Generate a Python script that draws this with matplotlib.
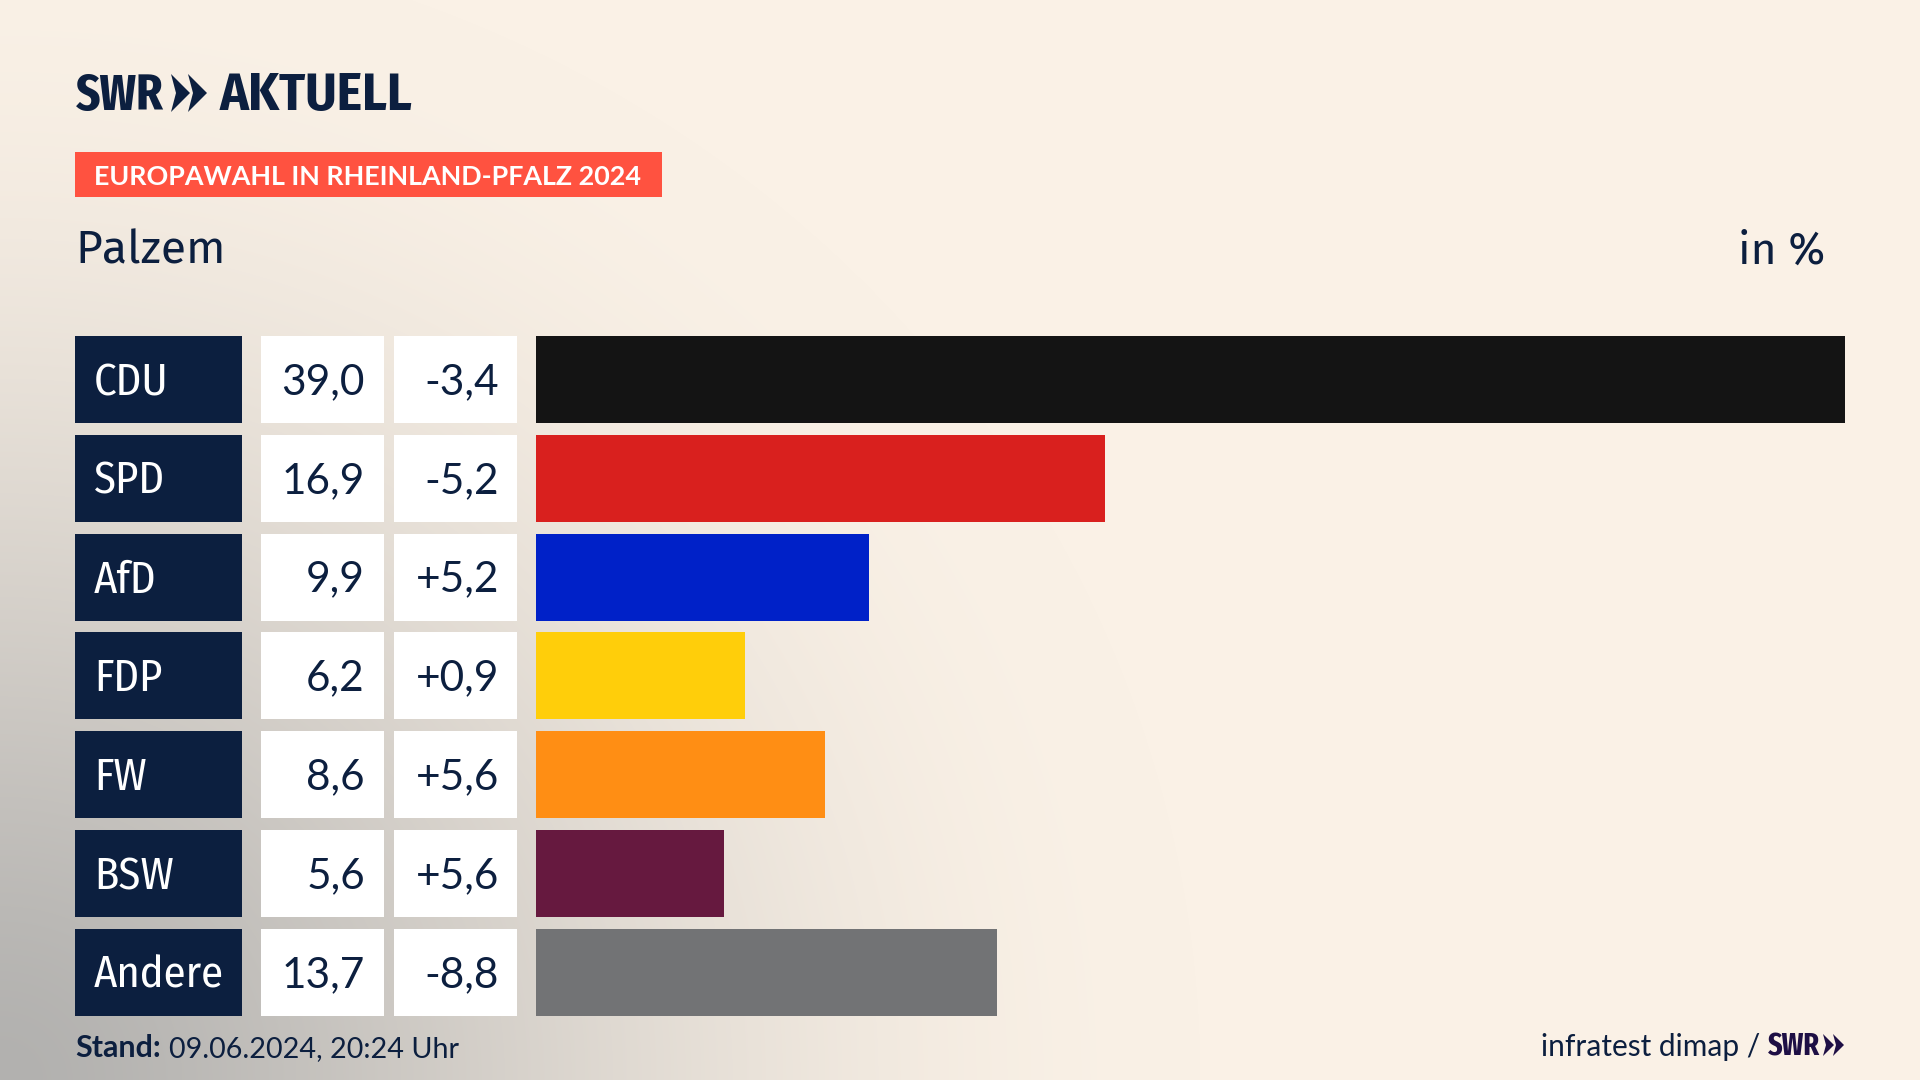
import numpy as np
import matplotlib
matplotlib.use("Agg")
import matplotlib.pyplot as plt
from matplotlib.patches import Rectangle, Polygon

parties = ["CDU", "SPD", "AfD", "FDP", "FW", "BSW", "Andere"]
shares = [39.0, 16.9, 9.9, 6.2, 8.6, 5.6, 13.7]
changes = ["-3,4", "-5,2", "+5,2", "+0,9", "+5,6", "+5,6", "-8,8"]
colors = ["#141414", "#D9201E", "#0021C8", "#FFCE0A", "#FF8E14", "#66193F", "#727375"]

navy = "#0C1F3F"
W, H = 1920, 1080
row_top = 336
row_pitch = 98.83
row_h = 87

lato = ["Lato", "DejaVu Sans"]
fira = ["Fira Sans", "Lato", "DejaVu Sans"]
cond = ["Fira Sans Condensed", "Lato", "DejaVu Sans"]
narrow = ["Fira Sans Extra Condensed", "Lato", "DejaVu Sans"]
plt.rcParams["font.family"] = lato

fig = plt.figure(figsize=(19.2, 10.8), dpi=100)

# background, grey corner bottom left fading to cream
bg = fig.add_axes([0, 0, 1, 1])
yy, xx = np.mgrid[0:H, 0:W]
d = np.sqrt((xx / 1200.0) ** 2 + ((H - yy) / 1150.0) ** 2)
t = np.clip(d, 0, 1) ** 0.8
t = t * t * (3 - 2 * t)
grey = np.array([178, 177, 175]) / 255
cream = np.array([250, 241, 230]) / 255
bg.imshow(grey + (cream - grey) * t[..., None], aspect="auto", extent=[0, W, H, 0])
bg.set_xlim(0, W)
bg.set_ylim(H, 0)
bg.axis("off")

# bars
ax = fig.add_axes([536 / W, 1 - (row_top + 6 * row_pitch + row_h) / H, 1309 / W,
                   (6 * row_pitch + row_h) / H])
ax.patch.set_alpha(0)
ypos = np.arange(len(parties))
ax.barh(ypos, shares, height=row_h / row_pitch, color=colors)
ax.set_xlim(0, 38.9)
ax.set_ylim(6 + row_h / row_pitch / 2, -row_h / row_pitch / 2)
ax.axis("off")

# table cells
for i, (p, s, c) in enumerate(zip(parties, shares, changes)):
    y = row_top + i * row_pitch
    base = y + 58
    bg.add_patch(Rectangle((75, y), 167, row_h, color=navy, lw=0))
    bg.add_patch(Rectangle((261, y), 123, row_h, color="white", lw=0))
    bg.add_patch(Rectangle((394, y), 123, row_h, color="white", lw=0))
    bg.text(94, base + 1, p, color="white", fontsize=32, family=cond, va="baseline", ha="left")
    bg.text(365, base, f"{s:.1f}".replace(".", ","), color=navy, fontsize=30.5, va="baseline", ha="right")
    bg.text(499, base, c, color=navy, fontsize=30.5, va="baseline", ha="right")

# logo
bg.text(76, 110, "SWR", color=navy, fontsize=37, fontweight="bold", family=narrow, va="baseline")
bg.text(220, 110, "AKTUELL", color=navy, fontsize=38.5, fontweight="bold", family=cond, va="baseline")
for x0 in [171, 188]:
    bg.add_patch(Polygon([(x0, 74), (x0 + 19, 93), (x0, 112), (x0 + 5, 93)], color=navy, lw=0))

# badge and headers
bg.add_patch(Rectangle((75, 152), 587, 45, color="#FF5240", lw=0))
bg.text(94, 185, "EUROPAWAHL IN RHEINLAND-PFALZ 2024", color="white", fontsize=19.4,
        fontweight="bold", va="baseline")
bg.text(75, 263, "Palzem", color=navy, fontsize=33.3, family=fira, va="baseline")
bg.text(1825, 264, "in %", color=navy, fontsize=32, family=fira, va="baseline", ha="right")

# footer
bg.text(75, 1057, "Stand:", color=navy, fontsize=22, fontweight="bold", va="baseline")
bg.text(169, 1057, "09.06.2024, 20:24 Uhr", color=navy, fontsize=20.7, va="baseline")
bg.text(1760, 1056, "infratest dimap /", color=navy, fontsize=21.5, va="baseline", ha="right")
purple = "#1E0F45"
bg.text(1768, 1056, "SWR", color=purple, fontsize=22, fontweight="bold", family=narrow, va="baseline")
for x0 in [1823, 1833]:
    bg.add_patch(Polygon([(x0, 1034), (x0 + 11, 1045), (x0, 1056), (x0 + 3, 1045)], color=purple, lw=0))

fig.savefig("out.png", dpi=100)
